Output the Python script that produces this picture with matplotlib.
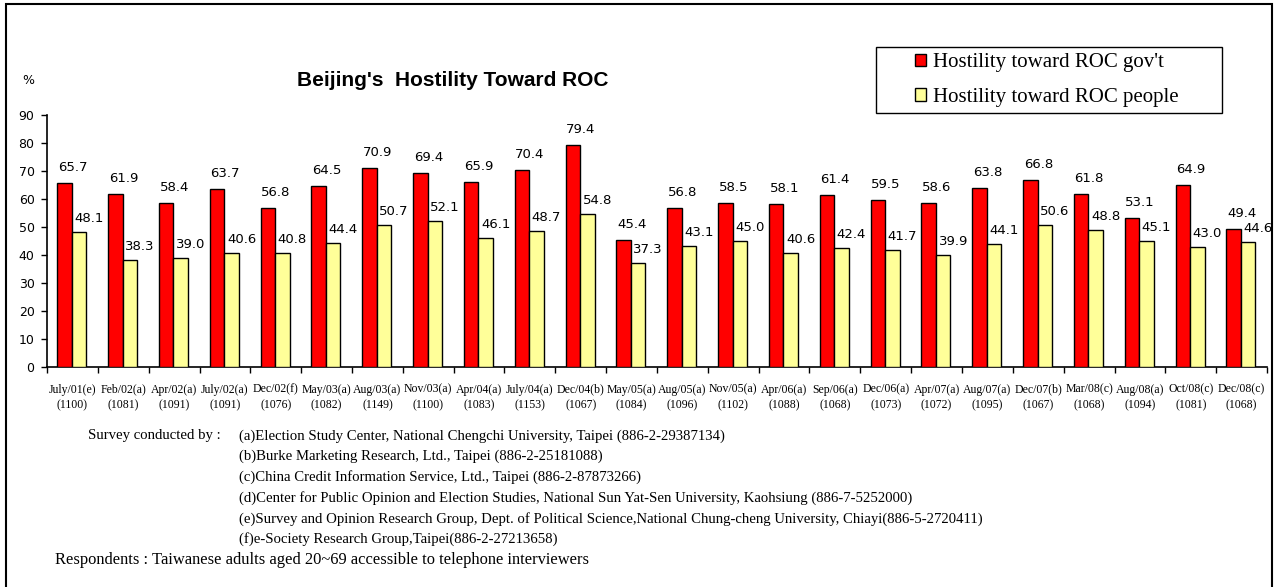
import matplotlib
matplotlib.use("Agg")
import matplotlib.pyplot as plt
from matplotlib.patches import Rectangle, Patch

# Survey waves (date + organisation code) and sample sizes
waves = ["July/01(e)", "Feb/02(a)", "Apr/02(a)", "July/02(a)", "Dec/02(f)", "May/03(a)",
         "Aug/03(a)", "Nov/03(a)", "Apr/04(a)", "July/04(a)", "Dec/04(b)", "May/05(a)",
         "Aug/05(a)", "Nov/05(a)", "Apr/06(a)", "Sep/06(a)", "Dec/06(a)", "Apr/07(a)",
         "Aug/07(a)", "Dec/07(b)", "Mar/08(c)", "Aug/08(a)", "Oct/08(c)", "Dec/08(c)"]
samples = [1100, 1081, 1091, 1091, 1076, 1082, 1149, 1100, 1083, 1153, 1067, 1084,
           1096, 1102, 1088, 1068, 1073, 1072, 1095, 1067, 1068, 1094, 1081, 1068]

# Percentages
hostility_gov = [65.7, 61.9, 58.4, 63.7, 56.8, 64.5, 70.9, 69.4, 65.9, 70.4, 79.4, 45.4,
                 56.8, 58.5, 58.1, 61.4, 59.5, 58.6, 63.8, 66.8, 61.8, 53.1, 64.9, 49.4]
hostility_people = [48.1, 38.3, 39.0, 40.6, 40.8, 44.4, 50.7, 52.1, 46.1, 48.7, 54.8, 37.3,
                    43.1, 45.0, 40.6, 42.4, 41.7, 39.9, 44.1, 50.6, 48.8, 45.1, 43.0, 44.6]

y_ticks = [0, 10, 20, 30, 40, 50, 60, 70, 80, 90]

sources = [
    "(a)Election Study Center, National Chengchi University, Taipei (886-2-29387134)",
    "(b)Burke Marketing Research, Ltd., Taipei (886-2-25181088)",
    "(c)China Credit Information Service, Ltd., Taipei (886-2-87873266)",
    "(d)Center for Public Opinion and Election Studies, National Sun Yat-Sen University, Kaohsiung (886-7-5252000)",
    "(e)Survey and Opinion Research Group, Dept. of Political Science,National Chung-cheng University, Chiayi(886-5-2720411)",
    "(f)e-Society Research Group,Taipei(886-2-27213658)",
]

RED = "#FF0000"
YELLOW = "#FFFF99"
W, H = 1276, 587
SERIF = "Liberation Serif"

fig = plt.figure(figsize=(W / 100, H / 100), dpi=100)
fig.patch.set_facecolor("white")


def px_rect(x0, y0, x1, y1, **kw):
    """Rectangle given in pixel coordinates measured from the top-left corner."""
    return Rectangle((x0 / W, 1 - y1 / H), (x1 - x0) / W, (y1 - y0) / H,
                     transform=fig.transFigure, **kw)


# outer frame
fig.patches.append(px_rect(6, 4, 1272, 620, fill=False, edgecolor="black", linewidth=1.5))

ax = fig.add_axes([47 / W, (H - 367) / H, 1220 / W, 252 / H])
n = len(waves)
bw = 0.285
xs = [i + 0.5 for i in range(n)]
red_x = [x - 0.155 for x in xs]
yel_x = [x + 0.13 for x in xs]

ax.bar(red_x, hostility_gov, width=bw, color=RED, edgecolor="black", linewidth=1.0, zorder=3)
ax.bar(yel_x, hostility_people, width=bw, color=YELLOW, edgecolor="black", linewidth=1.0, zorder=3)

for x, v in zip(red_x, hostility_gov):
    ax.annotate(f"{v:.1f}", (x, v), xytext=(8, 9), textcoords="offset pixels",
                ha="center", va="bottom", fontsize=9.5, family="DejaVu Sans")
for x, v in zip(yel_x, hostility_people):
    ax.annotate(f"{v:.1f}", (x, v), xytext=(10, 7), textcoords="offset pixels",
                ha="center", va="bottom", fontsize=9.5, family="DejaVu Sans")

ax.set_xlim(0, n)
ax.set_ylim(0, 90)
ax.set_yticks(y_ticks)
ax.set_yticklabels([str(t) for t in y_ticks], fontsize=9, family="DejaVu Sans")
ax.tick_params(axis="y", direction="out", length=4, width=1, pad=5)

ax.set_xticks(range(n + 1))
ax.set_xticklabels([])
ax.tick_params(axis="x", direction="out", length=4, width=1)
ax.set_xticks(xs, minor=True)
ax.set_xticklabels([f"{w}\n({s})" for w, s in zip(waves, samples)], minor=True,
                   fontsize=8.5, family=SERIF, linespacing=1.45)
ax.tick_params(axis="x", which="minor", length=0, pad=12)

for side in ("top", "right"):
    ax.spines[side].set_visible(False)
for side in ("left", "bottom"):
    ax.spines[side].set_linewidth(1.2)

# title and unit
fig.text(453 / W, 1 - 80 / H, "Beijing's  Hostility Toward ROC", ha="center", va="center",
         fontsize=15, fontweight="bold", family="Liberation Sans")
fig.text(22 / W, 1 - 80 / H, "%", ha="left", va="center", fontsize=9, family="DejaVu Sans")

# legend in its own box
fig.patches.append(px_rect(876, 47, 1222, 113, facecolor="white", edgecolor="black",
                           linewidth=1.0, zorder=5))
handles = [Patch(facecolor=RED, edgecolor="black", label="Hostility toward ROC gov't"),
           Patch(facecolor=YELLOW, edgecolor="black", label="Hostility toward ROC people")]
leg = fig.legend(handles=handles, loc="center left",
                 bbox_to_anchor=(915 / W, 1 - 80 / H), bbox_transform=fig.transFigure,
                 prop={"family": SERIF, "size": 15}, frameon=False,
                 handlelength=0.55, handleheight=0.55, handletextpad=0.3,
                 borderpad=0, labelspacing=0.75, borderaxespad=0)
leg.set_zorder(6)

# notes
fig.text(88 / W, 1 - 436 / H, "Survey conducted by :", ha="left", va="center",
         fontsize=10.6, family=SERIF)
for k, s in enumerate(sources):
    fig.text(239 / W, 1 - (436 + k * 20.7) / H, s, ha="left", va="center",
             fontsize=10.6, family=SERIF)
fig.text(55 / W, 1 - 560 / H,
         "Respondents : Taiwanese adults aged 20~69 accessible to telephone interviewers",
         ha="left", va="center", fontsize=11.9, family=SERIF)

fig.savefig("out.png", dpi=100, facecolor="white")
